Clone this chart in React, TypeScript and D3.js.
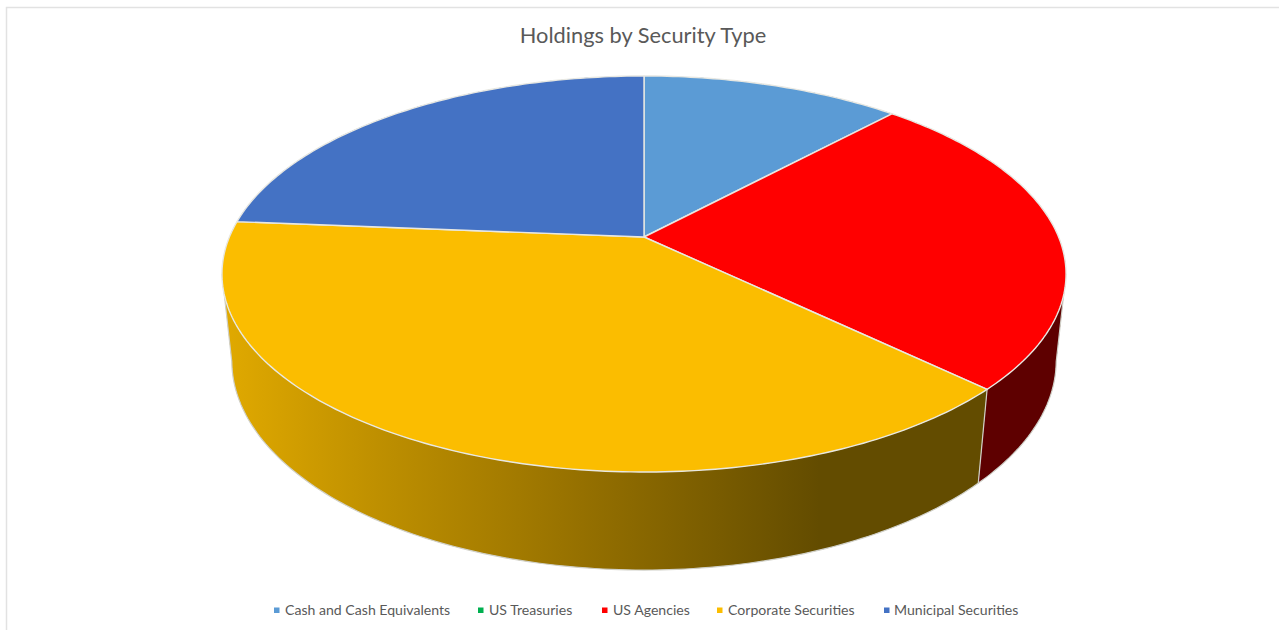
import React from 'react';
import * as d3 from 'd3';

const categories = ['Cash and Cash Equivalents', 'US Treasuries', 'US Agencies', 'Corporate Securities', 'Municipal Securities'];
const shares = [11.9, 0, 25.3, 39.1, 23.7];
const topColors = ['#5b9bd5', '#00b050', '#ff0000', '#fbbd00', '#4472c4'];
const sideColors = ['#3a6a96', '#007a38', '#5e0000', '#634c00', '#2c4c85'];
const legendX = [274, 478, 602, 717, 884];

const width = 1279;
const height = 630;

// camera for the tilted pie: z = 0 is the top face, z = 1 the bottom face
const cx = 644;
const radius = 414.6;
const persp = -0.1869;
const project = (angle: number, z: number): [number, number] => {
  const u = Math.sin(angle);
  const v = -Math.cos(angle);
  const w = 1 + persp * v + 0.023 * z;
  return [cx + (radius * u) / w, (146.8 * v + 237 + 92.8 * z) / w];
};

const line = d3.line<[number, number]>().curve(d3.curveLinear);
const rim = (a0: number, a1: number, z: number) => {
  const n = Math.max(2, Math.ceil((a1 - a0) * 60));
  const scale = d3.scaleLinear().domain([0, n]).range([a0, a1]);
  return d3.range(n + 1).map(i => project(scale(i), z));
};

// silhouette angles: walls get split there so the outline stays tangent
const tangentRight = Math.acos(persp);
const tangentLeft = 2 * Math.PI - tangentRight;

// one path per piece, the pieces cross themselves and would cancel in a single path
const wallPaths = (a0: number, a1: number) => {
  const cuts = [a0, ...[tangentRight, tangentLeft].filter(t => t > a0 && t < a1), a1];
  return d3.pairs(cuts).map(([p, q]) => line([...rim(p, q, 0), ...rim(p, q, 1).reverse()]) + 'Z');
};

const pie = d3.pie<number>().sort(null).value(d => d);

export default function App() {
  const slices = pie(shares).filter(s => s.endAngle > s.startAngle);
  const apex: [number, number] = [cx, 237];
  const outline = [
    project(tangentRight, 0),
    ...rim(tangentRight, tangentLeft, 1),
    project(tangentLeft, 0),
  ];
  const frontEdges = slices
    .filter(s => s.startAngle > tangentRight && s.startAngle < tangentLeft)
    .map(s => [project(s.startAngle, 0), project(s.startAngle, 1)]);

  return (
    <svg
      width={width}
      height={height}
      style={{ position: 'absolute', left: 0, top: 0, background: '#fff' }}
      fontFamily="Lato, 'Open Sans', sans-serif"
    >
      <defs>
        <linearGradient id="wall" gradientUnits="userSpaceOnUse" x1={226} x2={820} y1={0} y2={0}>
          <stop offset="0%" stopColor="#e0a900" />
          <stop offset="25%" stopColor="#bf9000" />
          <stop offset="60%" stopColor="#957000" />
          <stop offset="100%" stopColor={sideColors[3]} />
        </linearGradient>
      </defs>
      <path d={`M6.5,630V7.5H${width}`} fill="none" stroke="#e2e2e2" strokeWidth={1.5} />
      <text x={643} y={43} textAnchor="middle" fontSize={21.8} fill="#595959">
        Holdings by Security Type
      </text>

      {slices.map(s =>
        wallPaths(s.startAngle, s.endAngle).map((d, j) => (
          <path
            key={categories[s.index] + j}
            d={d}
            fill={s.index === 3 ? 'url(#wall)' : sideColors[s.index]}
          />
        ))
      )}
      <path d={line(outline) ?? ''} fill="none" stroke="#d0d0c8" strokeWidth={1.2} />
      {frontEdges.map((e, i) => (
        <path key={i} d={line(e as [number, number][]) ?? ''} fill="none" stroke="#d0d0c8" strokeWidth={1.2} />
      ))}

      {slices.map(s => (
        <path
          key={categories[s.index]}
          d={line([apex, ...rim(s.startAngle, s.endAngle, 0)]) + 'Z'}
          fill={topColors[s.index]}
          stroke="#e8e8e2"
          strokeWidth={1.4}
          strokeLinejoin="round"
        />
      ))}

      {categories.map((c, i) => (
        <g key={c}>
          <rect x={legendX[i]} y={607.5} width={5.5} height={5.5} fill={topColors[i]} />
          <text x={legendX[i] + (i === 4 ? 10 : 11)} y={615} fontSize={14.1} fill="#595959">
            {c}
          </text>
        </g>
      ))}
    </svg>
  );
}
